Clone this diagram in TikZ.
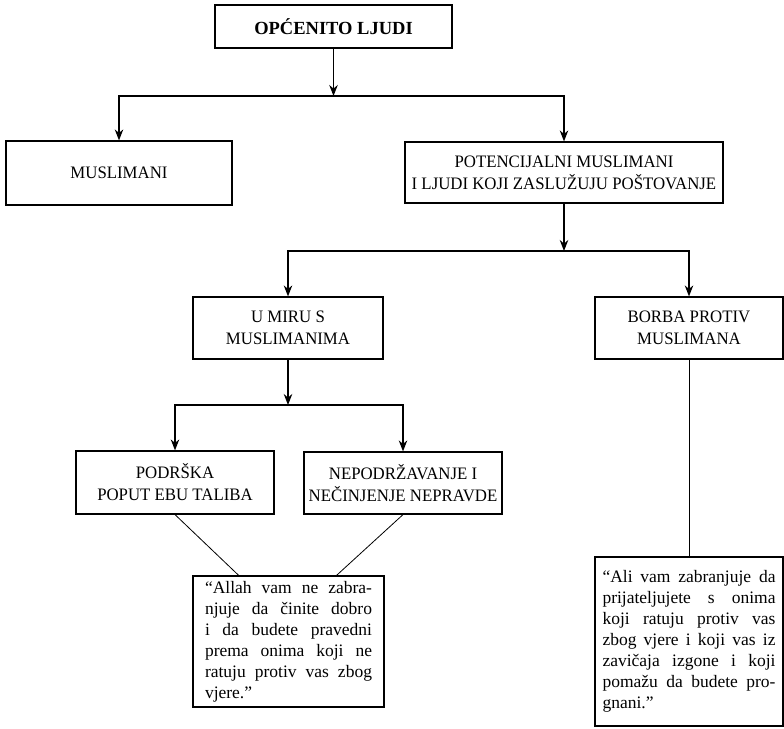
\documentclass[tikz,border=0pt]{standalone}
\usepackage{fontspec}
\setmainfont{Liberation Serif}
\newfontfamily\headfont[FakeStretch=0.96]{Liberation Serif}
\newfontfamily\quotefont[FakeStretch=1.0]{Liberation Serif}
\usetikzlibrary{arrows.meta}

\begin{document}
\begin{tikzpicture}[x=1pt,y=-1pt,line width=1.2pt,
  box/.style={rectangle,draw,align=center,inner sep=0pt,font=\headfont\fontsize{17.5}{22}\selectfont},
  quote/.style={rectangle,draw,align=justify,inner sep=0pt,font=\quotefont\fontsize{17.5}{21}\selectfont},
  arr/.style={-{Stealth[length=11pt,width=8.5pt]}},
  both/.style={{Stealth[length=11pt,width=8.5pt]}-{Stealth[length=11pt,width=8.5pt]}}]
%\draw[help lines] (0,0) grid[step=50] (784,728);
\useasboundingbox (0,0) rectangle (784,728);
\path
(333.5,26.5) node(opce) [box,minimum width=237,minimum height=43,font=\bfseries\fontsize{18.5}{22}\selectfont] {OPĆENITO LJUDI}
(119,173) node(musl) [box,minimum width=226,minimum height=64] {MUSLIMANI}
(564,172.5) node(pot) [box,minimum width=318,minimum height=61] {POTENCIJALNI MUSLIMANI\\I LJUDI KOJI ZASLUŽUJU POŠTOVANJE}
(288,328) node(mir) [box,minimum width=190,minimum height=62] {U MIRU S\\MUSLIMANIMA}
(689,328) node(borba) [box,minimum width=188,minimum height=62] {BORBA PROTIV\\MUSLIMANA}
(175,482.5) node(podr) [box,minimum width=198,minimum height=63] {PODRŠKA\\POPUT EBU TALIBA}
(403,483) node(nepod) [box,minimum width=198,minimum height=62] {NEPODRŽAVANJE I\\NEČINJENJE NEPRAVDE}
(288.5,641.5) node(dozvola) [quote,text width=167,minimum width=191,minimum height=131]
  {“Allah vam ne zabra-\linebreak njuje da činite dobro\linebreak i da budete pravedni\linebreak prema onima koji ne\linebreak ratuju protiv vas zbog\linebreak vjere.”}
(689,641.5) node(zabrana) [quote,text width=173,minimum width=188,minimum height=169]
  {“Ali vam zabranjuje da\linebreak prijateljujete s onima\linebreak koji ratuju protiv vas\linebreak zbog vjere i koji vas iz\linebreak zavičaja izgone i koji\linebreak pomažu da budete pro-\linebreak gnani.”};

\coordinate (bar1) at (333.5,96);
\coordinate (bar2) at (564,251);
\coordinate (bar3) at (288,405);

\draw[arr] (opce) -- (bar1);
\draw[both] (musl.north) |- (bar1) -| (pot.north);
\draw[arr] (pot) -- (bar2);
\draw[both] (mir.north) |- (bar2) -| (borba.north);
\draw[arr] (mir) -- (bar3);
\draw[both] (podr.north) |- (bar3) -| (nepod.north);
\draw[line width=0.8pt] (podr.south) -- (dozvola.127);
\draw[line width=0.8pt] (nepod.south) -- (dozvola.54);
\draw[line width=0.8pt] (borba) -- (zabrana);
\end{tikzpicture}
\end{document}
